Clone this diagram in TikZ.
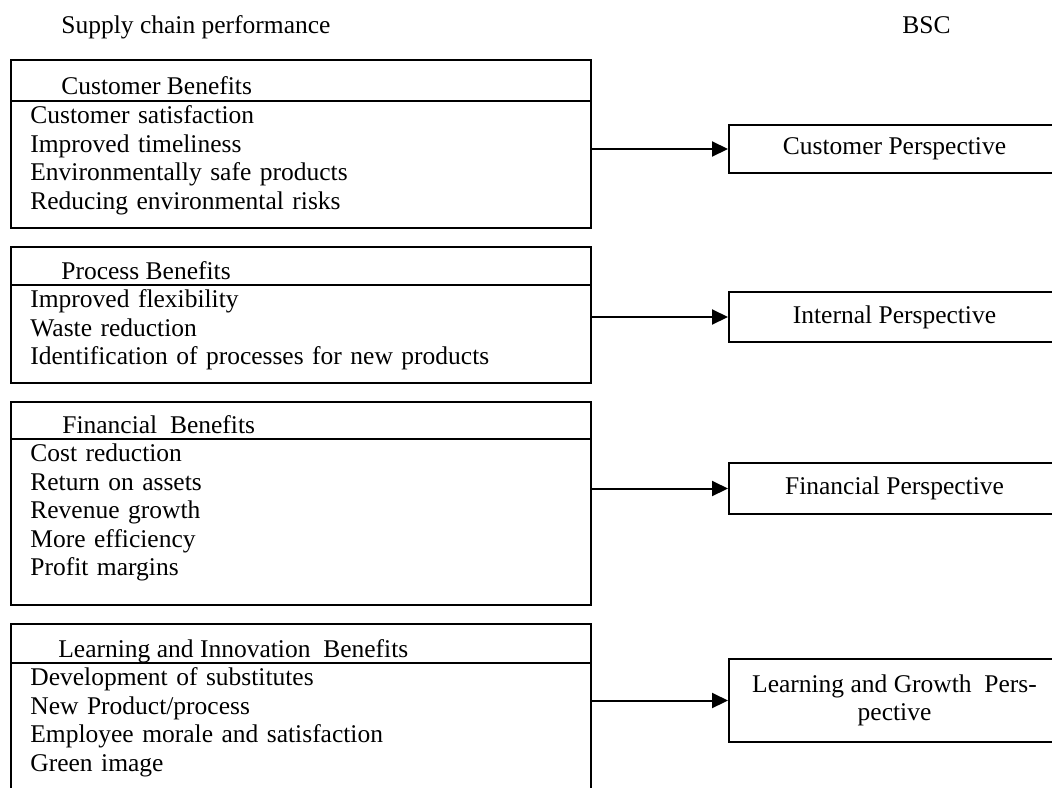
\documentclass[tikz,border=0pt]{standalone}
\usepackage{fontspec}
\setmainfont{Liberation Serif}
\usetikzlibrary{arrows.meta}

\newcommand{\bscfont}{\fontsize{12.75pt}{14.25pt}\selectfont}

\begin{document}
\begin{tikzpicture}[x=0.5pt, y=-0.5pt, node distance=14.25pt]
	% % % % % % % % % % % % % % % % % % % % % % % % % % % % % %
	% Define styles
	\tikzstyle{panel} = [rectangle, draw, line width=1pt, inner sep=0pt, minimum width=290pt, anchor=north west]
	\tikzstyle{persp} = [rectangle, draw, line width=1pt, inner sep=0pt, minimum width=165.5pt, align=center, font=\bscfont]
	\tikzstyle{head} = [inner sep=0pt, anchor=west, text height=10pt, text depth=4.25pt, font=\bscfont]
	\tikzstyle{item} = [inner sep=0pt, text height=10pt, text depth=4.25pt, text width=270pt, align=left, font=\bscfont]
	\tikzstyle{sep} = [draw, line width=1pt]
	\tikzstyle{line} = [draw, line width=1pt, -{Triangle[length=8pt, width=7.5pt]}]

	\useasboundingbox (0,0) rectangle (1052,787);
	\clip (0,0) rectangle (1052,787);

	% % % % % % % % % % % % % % % % % % % % % % % % % % % % % %
	% Column titles
	\node [head] (scp) at (61,27.75) {Supply chain performance};
	\node [head] (bsc) at (902,27.75) {BSC};

	% % % % % % % % % % % % % % % % % % % % % % % % % % % % % %
	% Left boxes
	% customer
	\node [panel, minimum height=84pt] (cb) at (10,59) {};
	\path [sep] (cb.north west) ++(0,42) -- ++(580,0);
	\node [head] (cbh) at (61,88.75) {Customer Benefits};
	\node [item, anchor=west] (cs) at (30,118) {Customer satisfaction};
	\node [item, below of=cs] (it) {Improved timeliness};
	\node [item, below of=it] (esp) {Environmentally safe products};
	\node [item, below of=esp] (rer) {Reducing environmental risks};
	% process
	\node [panel, minimum height=68pt] (pb) at (10,246) {};
	\path [sep] (pb.north west) ++(0,39) -- ++(580,0);
	\node [head] (pbh) at (61,273.75) {Process Benefits};
	\node [item, anchor=west] (ifl) at (30,302) {Improved flexibility};
	\node [item, below of=ifl] (wr) {Waste reduction};
	\node [item, below of=wr] (ipn) {Identification of processes for new products};
	% financial
	\node [panel, minimum height=101.5pt] (fb) at (10,401) {};
	\path [sep] (fb.north west) ++(0,38) -- ++(580,0);
	\node [head] (fbh) at (62,427.75) {Financial\ \ Benefits};
	\node [item, anchor=west] (cr) at (30,456) {Cost reduction};
	\node [item, below of=cr] (roa) {Return on assets};
	\node [item, below of=roa] (rg) {Revenue growth};
	\node [item, below of=rg] (me) {More efficiency};
	\node [item, below of=me] (pm) {Profit margins};
	% learning
	\node [panel, minimum height=100pt] (lb) at (10,623) {};
	\path [sep] (lb.north west) ++(0,40) -- ++(580,0);
	\node [head] (lbh) at (58,651.75) {Learning and Innovation\ \ Benefits};
	\node [item, anchor=west] (ds) at (30,680) {Development of substitutes};
	\node [item, below of=ds] (npp) {New Product/process};
	\node [item, below of=npp] (ems) {Employee morale and satisfaction};
	\node [item, below of=ems] (gi) {Green image};

	% % % % % % % % % % % % % % % % % % % % % % % % % % % % % %
	% BSC perspectives
	\node [persp, minimum height=24pt] (cp) at (894.5,149) {Customer Perspective};
	\node [persp, minimum height=25pt] (ip) at (894.5,317) {Internal Perspective};
	\node [persp, minimum height=25.5pt] (fp) at (894.5,488.5) {Financial Perspective};
	\node [persp, minimum height=41.5pt] (lp) at (894.5,700.5) {Learning and Growth\ \ Pers-\\pective};

	% Draw edges
	\path [line] (cb.east |- cp.west) -- (cp.west);
	\path [line] (pb.east |- ip.west) -- (ip.west);
	\path [line] (fb.east |- fp.west) -- (fp.west);
	\path [line] (lb.east |- lp.west) -- (lp.west);
\end{tikzpicture}
\end{document}
